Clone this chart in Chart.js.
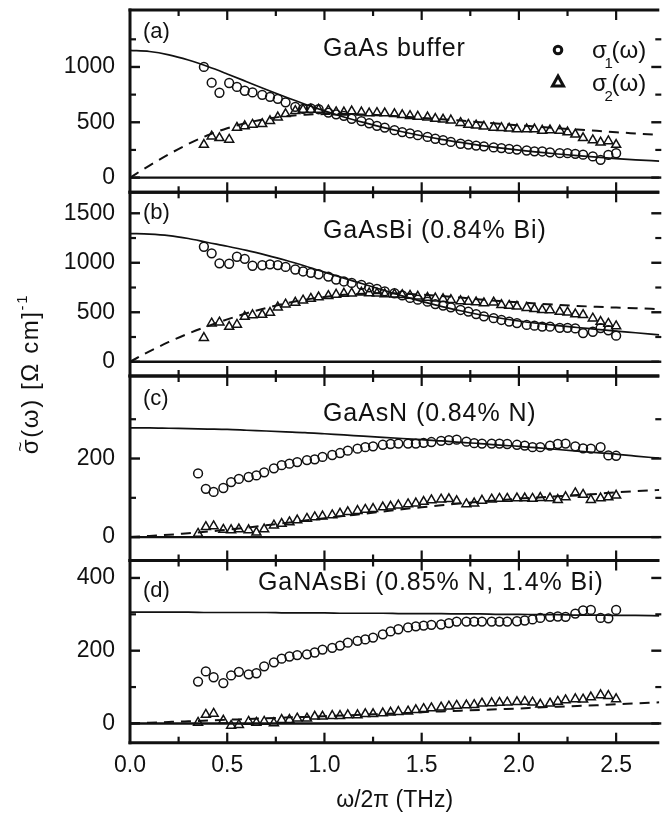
<!DOCTYPE html>
<html><head><meta charset="utf-8">
<script src="https://cdn.jsdelivr.net/npm/chart.js@4.4.0/dist/chart.umd.min.js"></script>
<style>html,body{margin:0;padding:0;background:#fff;}#wrap{position:relative;width:666px;height:819px;}</style>
</head><body><div id="wrap"><canvas id="c" width="666" height="819"></canvas></div>
<script>
// ---------- data ----------
const xMajorTicks = [0, 0.5, 1.0, 1.5, 2.0, 2.5];
const xMinorTicks = [0.25, 0.75, 1.25, 1.75, 2.25];

const yTicksA = [0, 500, 1000];        const yMinorA = [250, 750, 1250];
const yTicksB = [0, 500, 1000, 1500];  const yMinorB = [250, 750, 1250];
const yTicksC = [0, 200];              const yMinorC = [100, 300];
const yTicksD = [0, 200, 400];         const yMinorD = [100, 300];

const freqAB = [0.38,0.42,0.46,0.51,0.55,0.59,0.63,0.68,0.72,0.76,0.80,0.85,0.89,0.93,0.97,1.02,1.06,1.10,1.14,1.19,1.23,1.27,1.31,1.36,1.40,1.44,1.48,1.53,1.57,1.61,1.65,1.70,1.74,1.78,1.82,1.87,1.91,1.95,1.99,2.04,2.08,2.12,2.16,2.21,2.25,2.29,2.33,2.38,2.42,2.46,2.50];
const freqCD = [0.35,0.39,0.43,0.48,0.52,0.56,0.61,0.65,0.69,0.74,0.78,0.82,0.86,0.91,0.95,0.99,1.04,1.08,1.12,1.17,1.21,1.25,1.30,1.34,1.38,1.43,1.47,1.51,1.55,1.60,1.64,1.68,1.73,1.77,1.81,1.86,1.90,1.94,1.99,2.03,2.07,2.11,2.16,2.20,2.24,2.29,2.33,2.37,2.42,2.46,2.50];

const sigA1 = [1000,858,767,855,820,785,770,748,730,712,680,640,622,625,618,588,572,558,532,511,491,468,452,429,411,399,383,368,351,338,322,306,298,289,283,273,267,259,253,245,237,236,228,221,221,215,207,191,161,205,220];
const sigA2 = [297,373,358,343,452,466,479,485,512,545,575,603,615,615,615,608,592,590,600,590,582,585,582,575,566,558,552,545,532,525,518,495,479,472,462,452,449,444,437,437,437,425,428,425,410,390,358,338,318,330,297];
const sigB1 = [1162,1095,994,990,1061,1040,970,975,984,977,958,932,912,898,884,861,830,811,796,777,751,737,712,692,670,645,627,607,583,568,550,523,507,482,459,440,422,406,391,372,364,355,354,343,343,337,290,303,340,318,263];
const sigB2 = [242,388,398,354,375,455,472,475,495,550,580,598,620,637,652,665,679,689,691,700,693,691,683,681,675,668,659,647,641,634,625,613,607,601,592,600,574,567,558,545,533,523,522,505,499,480,473,438,404,385,360];
const sigC1 = [162,123,115,125,140,148,153,157,165,175,183,187,191,196,198,204,209,214,220,225,229,231,235,237,238,238,238,240,242,245,247,248,243,239,238,238,238,237,235,233,229,229,233,237,238,231,226,225,229,208,207];
const sigC2 = [9,26,28,19,18,20,18,12,20,30,34,38,43,47,51,53,56,60,64,67,70,72,76,78,81,84,86,90,94,96,97,92,84,86,93,96,98,98,99,99,98,100,99,95,102,112,108,95,99,102,106];
const sigD1 = [115,143,127,111,132,142,135,138,157,168,178,184,188,190,195,203,208,214,222,227,231,236,245,253,259,264,267,269,271,272,276,280,280,280,280,280,280,280,281,283,286,290,293,294,293,302,311,312,290,289,312];
const sigD2 = [2,24,27,8,-6,-4,5,2,5,1,10,10,14,14,19,19,21,21,23,23,26,26,28,30,32,33,37,40,42,44,47,49,50,51,55,56,57,58,59,60,58,52,55,60,64,67,66,72,78,76,67];

const fitFreq = [0,0.1,0.2,0.3,0.4,0.5,0.6,0.7,0.8,0.9,1.0,1.1,1.2,1.3,1.4,1.5,1.6,1.7,1.8,1.9,2.0,2.1,2.2,2.3,2.4,2.5,2.6,2.722];
const fitA1 = [1150,1140,1110,1063,1004,937,867,796,728,663,603,548,499,454,414,378,346,318,292,269,248,230,213,198,185,172,161,149];
const fitA2 = [0,109,211,304,383,446,495,531,555,568,574,574,570,562,552,540,527,515,501,487,472,460,446,434,423,410,399,386];
const fitB1 = [1295,1290,1275,1245,1205,1167,1125,1077,1025,967,905,845,785,725,665,610,560,515,475,442,412,387,365,346,328,310,293,272];
const fitB2 = [0,105,200,285,360,428,490,543,590,627,655,676,688,692,688,678,665,648,630,614,600,587,575,564,555,547,540,532];
const fitC1 = [278,278,277,276,275,274,272,270,268,266,263,260,257,254,251,248,245,241,238,234,231,227,223,219,215,211,206,201];
const fitC2 = [0,3,6,10,14,19,24,30,36,42,48,54,59,65,71,76,81,86,90,94,98,101,104,107,110,114,117,120];
const fitD1 = [306,306,306,306,305,305,305,305,304,304,304,303,303,303,302,302,302,301,301,300,300,299,299,298,298,297,297,296];
const fitD2 = [0,2,4,6,8,10,12,14,16,18,20,22,24,26,28,31,33,35,37,39,41,44,46,48,50,53,55,58];

const panelTags  = ['(a)', '(b)', '(c)', '(d)'];
const panelNames = ['GaAs buffer', 'GaAsBi (0.84% Bi)', 'GaAsN (0.84% N)', 'GaNAsBi (0.85% N, 1.4% Bi)'];

// ---------- layout / style ----------
const INK = '#111';
const FONT = '"Liberation Sans", Arial, Helvetica, sans-serif';

const panels = [
  {id:'ya', min:-133, max:1515, weight:182.3, major:yTicksA, minor:yMinorA, f:freqAB, s1:sigA1, s2:sigA2, fit1:fitA1, fit2:fitA2, tagDy:22, nameDx:193, nameDy:39},
  {id:'yb', min:-144, max:1712, weight:183.7, major:yTicksB, minor:yMinorB, f:freqAB, s1:sigB1, s2:sigB2, fit1:fitB1, fit2:fitB2, tagDy:20.5, nameDx:193, nameDy:39},
  {id:'yc', min:-59.5, max:410, weight:184.5, major:yTicksC, minor:yMinorC, f:freqCD, s1:sigC1, s2:sigC2, fit1:fitC1, fit2:fitC2, tagDy:23, nameDx:193, nameDy:38},
  {id:'yd', min:-53, max:448, weight:182.2, major:yTicksD, minor:yMinorD, f:freqCD, s1:sigD1, s2:sigD2, fit1:fitD1, fit2:fitD2, tagDy:30.5, nameDx:128, nameDy:23}
];

const datasets = [];
panels.forEach(p => {
  datasets.push({data: fitFreq.map((x,i)=>({x, y:p.fit1[i]})), yAxisID:p.id, showLine:true, pointRadius:0,
    borderColor:INK, borderWidth:1.7, cubicInterpolationMode:'monotone', fill:false});
  datasets.push({data: fitFreq.map((x,i)=>({x, y:p.fit2[i]})), yAxisID:p.id, showLine:true, pointRadius:0,
    borderColor:INK, borderWidth:2, borderDash:[10,7], cubicInterpolationMode:'monotone', fill:false});
});
panels.forEach(p => {
  datasets.push({data: p.f.map((x,i)=>({x, y:p.s1[i]})), yAxisID:p.id, showLine:false, pointStyle:'circle',
    pointRadius:4.4, pointBorderWidth:1.5, pointBorderColor:INK, pointBackgroundColor:'rgba(255,255,255,0)'});
  datasets.push({data: p.f.map((x,i)=>({x, y:p.s2[i]})), yAxisID:p.id, showLine:false, pointStyle:'triangle',
    pointRadius:5.2, pointBorderWidth:1.5, pointBorderColor:INK, pointBackgroundColor:'rgba(255,255,255,0)'});
});

const scales = {
  x: {type:'linear', min:0, max:2.722, position:'bottom',
    grid:{display:false, drawTicks:false}, border:{display:false},
    afterBuildTicks: ax => { ax.ticks = xMajorTicks.map(v => ({value:v})); },
    afterFit: ax => { ax.height = 76.3; ax.paddingLeft = 0; ax.paddingRight = 0; },
    ticks:{padding:9, autoSkip:false, maxRotation:0, color:INK, font:{family:FONT, size:23}, callback: v => Number(v).toFixed(1)},
    title:{display:true, text:'ω/2π (THz)', color:INK, font:{family:FONT, size:23}, padding:{top:0, bottom:5}}
  }
};
// stacked panels: last defined is placed at top
[...panels].reverse().forEach(p => {
  scales[p.id] = {type:'linear', position:'left', stack:'panels', stackWeight:p.weight, min:p.min, max:p.max,
    grid:{display:false, drawTicks:false}, border:{display:false},
    afterBuildTicks: ax => { ax.ticks = p.major.map(v => ({value:v})); },
    afterFit: ax => { ax.width = 130; ax.paddingTop = 0; ax.paddingBottom = 0; },
    ticks:{padding:15, autoSkip:false, color:INK, font:{family:FONT, size:23}, callback: v => String(v)}
  };
});

function seg(ctx, x1, y1, x2, y2, w) {
  ctx.lineWidth = w; ctx.beginPath(); ctx.moveTo(x1, y1); ctx.lineTo(x2, y2); ctx.stroke();
}

const framePlugin = {
  id: 'frame',
  afterDraw(chart) {
    const {ctx, chartArea: ca, scales: sc} = chart;
    const xs = sc.x;
    const xR = ca.right + 2;
    ctx.save();
    ctx.strokeStyle = INK; ctx.fillStyle = INK; ctx.lineCap = 'butt';
    panels.forEach((p, k) => {
      const s = sc[p.id];
      const y0 = s.getPixelForValue(0);
      seg(ctx, ca.left, y0, ca.right, y0, 2.4);
      seg(ctx, ca.left - 1.5, s.top, ca.right, s.top, 3);
      seg(ctx, ca.left - 1.5, s.bottom, ca.right, s.bottom, 3);
      p.major.forEach(v => { const y = s.getPixelForValue(v);
        seg(ctx, ca.left, y, ca.left + 10, y, 2.4); seg(ctx, xR - 10, y, xR, y, 2.4); });
      p.minor.forEach(v => { const y = s.getPixelForValue(v);
        seg(ctx, ca.left, y, ca.left + 6, y, 2.2); seg(ctx, xR - 6, y, xR, y, 2.2); });
      xMajorTicks.forEach(v => { if (v <= 0) return; const x = xs.getPixelForValue(v);
        seg(ctx, x, s.top, x, s.top + 10, 2.2); seg(ctx, x, s.bottom, x, s.bottom - 10, 2.2); });
      xMinorTicks.forEach(v => { const x = xs.getPixelForValue(v);
        seg(ctx, x, s.top, x, s.top + 6, 2.2); seg(ctx, x, s.bottom, x, s.bottom - 6, 2.2); });
      // panel labels
      ctx.textBaseline = 'middle'; ctx.textAlign = 'left';
      ctx.font = '22px ' + FONT;
      ctx.letterSpacing = '0px';
      ctx.fillText(panelTags[k], ca.left + 13, s.top + p.tagDy);
      ctx.font = '25px ' + FONT;
      ctx.letterSpacing = '0.9px';
      ctx.fillText(panelNames[k], ca.left + p.nameDx, s.top + p.nameDy);
      ctx.letterSpacing = '0px';
    });
    seg(ctx, ca.left, ca.top - 1.5, ca.left, ca.bottom + 1.5, 3);

    // legend (panel a)
    const sa = sc.ya;
    const lx = ca.left + 428;
    ctx.lineWidth = 3;
    ctx.beginPath(); ctx.arc(lx, sa.top + 40, 3.8, 0, Math.PI * 2); ctx.stroke();
    ctx.beginPath(); ctx.moveTo(lx, sa.top + 66); ctx.lineTo(lx + 5.5, sa.top + 76); ctx.lineTo(lx - 5.5, sa.top + 76); ctx.closePath(); ctx.stroke();
    const legendRows = [{sub:'1', base: sa.top + 48}, {sub:'2', base: sa.top + 81}];
    ctx.textBaseline = 'alphabetic';
    legendRows.forEach(r => {
      ctx.font = '24px ' + FONT; ctx.fillText('σ', lx + 34, r.base);
      ctx.font = '15px ' + FONT; ctx.fillText(r.sub, lx + 46.5, r.base + 10);
      ctx.font = '24px ' + FONT; ctx.fillText('(ω)', lx + 53.5, r.base);
    });

    // y axis title:  σ~(ω) [Ω cm]^-1
    ctx.save();
    ctx.translate(30, 374);
    ctx.rotate(-Math.PI / 2);
    ctx.textBaseline = 'alphabetic'; ctx.textAlign = 'left';
    ctx.font = '24px ' + FONT; ctx.letterSpacing = '1.6px';
    const wSig = ctx.measureText('σ').width;
    const rest = '(ω) [Ω cm]';
    const wRest = ctx.measureText(rest).width;
    ctx.font = '15px ' + FONT;
    const wSup = ctx.measureText('-1').width;
    const start = -(wSig + wRest + wSup) / 2;
    const base = 8;
    ctx.font = '24px ' + FONT;
    ctx.fillText('σ', start, base);
    ctx.fillText(rest, start + wSig, base);
    ctx.font = '15px ' + FONT;
    ctx.fillText('-1', start + wSig + wRest, base - 11);
    // tilde over sigma
    ctx.letterSpacing = '0px';
    ctx.font = '17px ' + FONT; ctx.textAlign = 'center';
    ctx.fillText('~', start + wSig / 2 - 0.8, base - 12);
    ctx.restore();
    ctx.restore();
  }
};

new Chart(document.getElementById('c'), {
  type: 'scatter',
  data: {datasets},
  options: {
    responsive:false, animation:false, devicePixelRatio:1,
    layout:{padding:{top:10, right:0, bottom:0, left:0}},
    plugins:{legend:{display:false}, tooltip:{enabled:false}},
    scales
  },
  plugins:[framePlugin]
});
</script>
</body></html>
